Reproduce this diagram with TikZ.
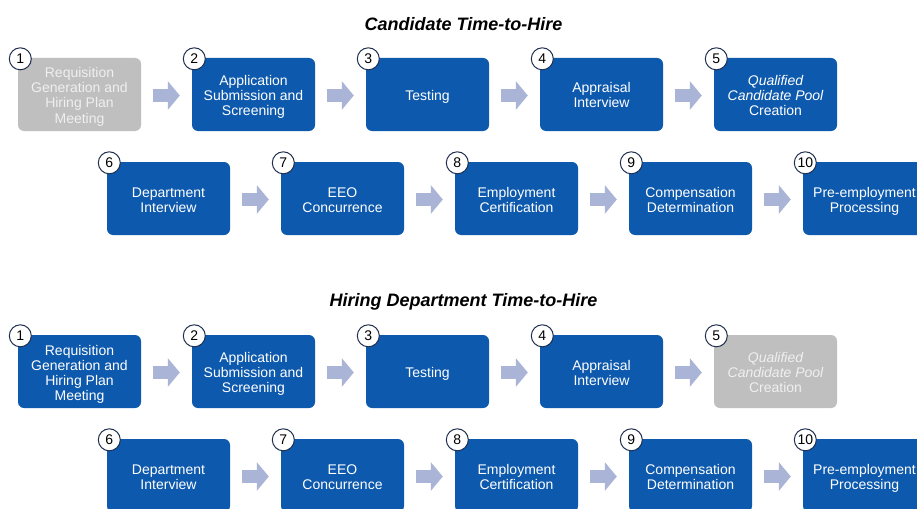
\documentclass[tikz,border=0pt]{standalone}
\usepackage{fontspec}
\setmainfont{Liberation Sans}
\usetikzlibrary{arrows.meta}
\definecolor{boxblue}{HTML}{0D59AD}
\definecolor{arrowc}{HTML}{A9B4D6}
\definecolor{grayfill}{HTML}{BFBFBF}
\definecolor{graytext}{HTML}{EFEFEF}
\definecolor{circline}{HTML}{1F2F4F}
\newcommand{\boxtxt}[1]{\raisebox{-3pt}[\height][\depth]{\begin{tabular}{@{}c@{}}#1\end{tabular}}}
\tikzset{
 stepbox/.style={rectangle, rounded corners=6pt, minimum width=123pt, minimum height=73pt, inner sep=0pt, fill=boxblue, text=white, font=\fontsize{14}{15}\selectfont},
 graybox/.style={stepbox, fill=grayfill, text=graytext},
 numcirc/.style={circle, draw=circline, line width=1pt, fill=white, minimum size=22pt, inner sep=0pt, font=\fontsize{14}{14}\selectfont},
 flow/.style={draw=arrowc, line width=13pt, -{Triangle[width=28pt,length=12pt]}, shorten <=11.5pt, shorten >=12pt},
 titletext/.style={font=\fontsize{18}{20}\selectfont\bfseries\itshape}
}
\begin{document}
\begin{tikzpicture}[x=1pt,y=-1pt]
\clip (0,0) rectangle (917,508);
\fill[white] (0,0) rectangle (917,508);
% ---------- Candidate section ----------
\node[titletext] (t1) at (463.5,24.5) {Candidate Time-to-Hire};
\node[graybox] (a1) at (79.5,94.5) {\boxtxt{Requisition\\Generation and\\Hiring Plan\\Meeting}};
\node[stepbox] (a2) at (253.5,94.5) {\boxtxt{Application\\Submission and\\Screening}};
\node[stepbox] (a3) at (427.5,94.5) {\boxtxt{Testing}};
\node[stepbox] (a4) at (601.5,94.5) {\boxtxt{Appraisal\\Interview}};
\node[stepbox] (a5) at (775.5,94.5) {\boxtxt{\itshape Qualified\\\itshape Candidate Pool\\Creation}};
\node[stepbox] (a6) at (168.5,198.5) {\boxtxt{Department\\Interview}};
\node[stepbox] (a7) at (342.5,198.5) {\boxtxt{EEO\\Concurrence}};
\node[stepbox] (a8) at (516.5,198.5) {\boxtxt{Employment\\Certification}};
\node[stepbox] (a9) at (690.5,198.5) {\boxtxt{Compensation\\Determination}};
\node[stepbox] (a10) at (864.5,198.5) {\boxtxt{Pre-employment\\Processing}};
% ---------- Hiring Department section ----------
\node[titletext] (t2) at (463.5,301.5) {Hiring Department Time-to-Hire};
\node[stepbox] (b1) at (79.5,371.5) {\boxtxt{Requisition\\Generation and\\Hiring Plan\\Meeting}};
\node[stepbox] (b2) at (253.5,371.5) {\boxtxt{Application\\Submission and\\Screening}};
\node[stepbox] (b3) at (427.5,371.5) {\boxtxt{Testing}};
\node[stepbox] (b4) at (601.5,371.5) {\boxtxt{Appraisal\\Interview}};
\node[graybox] (b5) at (775.5,371.5) {\boxtxt{\itshape Qualified\\\itshape Candidate Pool\\Creation}};
\node[stepbox] (b6) at (168.5,475.5) {\boxtxt{Department\\Interview}};
\node[stepbox] (b7) at (342.5,475.5) {\boxtxt{EEO\\Concurrence}};
\node[stepbox] (b8) at (516.5,475.5) {\boxtxt{Employment\\Certification}};
\node[stepbox] (b9) at (690.5,475.5) {\boxtxt{Compensation\\Determination}};
\node[stepbox] (b10) at (864.5,475.5) {\boxtxt{Pre-employment\\Processing}};
% ---------- arrows ----------
\foreach \s in {a,b}{
  \foreach \i/\j in {1/2,2/3,3/4,4/5,6/7,7/8,8/9,9/10}{
    \draw[flow] ([yshift=-1pt]\s\i.east) -- ([yshift=-1pt]\s\j.west);
  }
}
% ---------- number circles ----------
\foreach \s in {a,b}{
  \foreach \i in {1,...,10}{
    \node[numcirc] (n\s\i) at ([shift={(2.5,1)}]\s\i.north west) {\i};
  }
}
\end{tikzpicture}
\end{document}
